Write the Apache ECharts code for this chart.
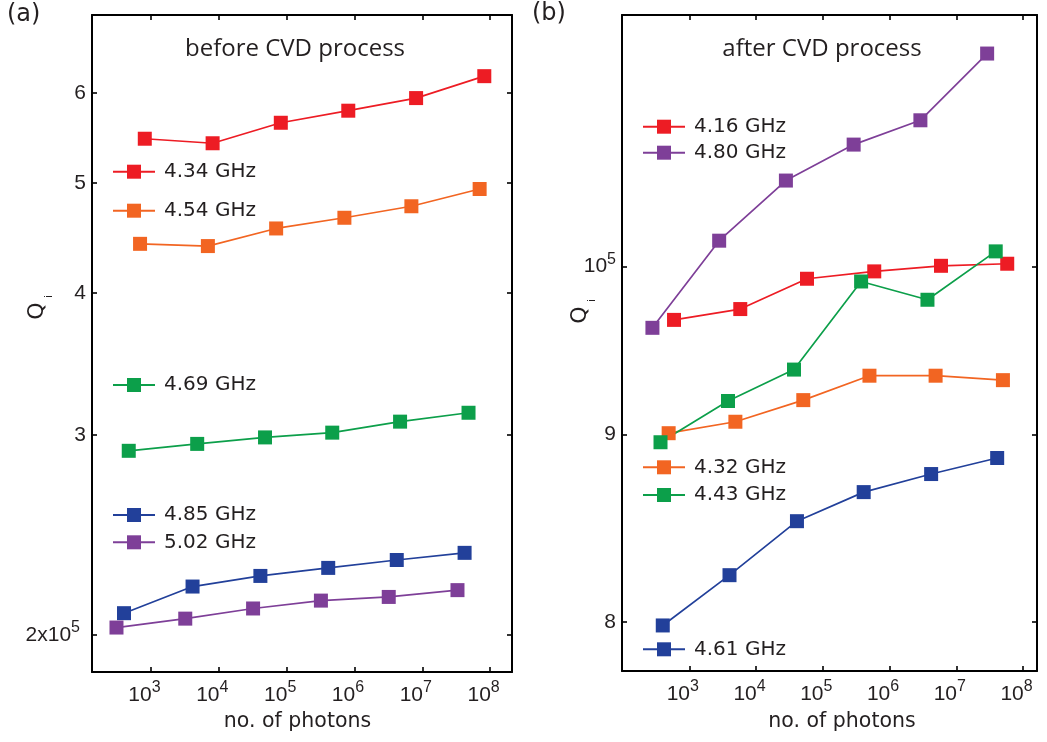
<!DOCTYPE html>
<html>
<head>
<meta charset="utf-8">
<script src="https://cdn.jsdelivr.net/npm/echarts@6/dist/echarts.min.js"></script>
<style>
html,body{margin:0;padding:0;background:#fff;}
#chart{width:1047px;height:742px;}
</style>
</head>
<body>
<div id="chart"></div>
<script>
// ---------- data: panel (a) before CVD process ----------
const namesA = ['4.34 GHz', '4.54 GHz', '4.69 GHz', '4.85 GHz', '5.02 GHz'];
const photonsA_434 = [810, 8100, 82000, 810000, 8.1e6, 8.2e7];
const qiA_434 = [5.47e5, 5.42e5, 5.65e5, 5.79e5, 5.94e5, 6.21e5];
const photonsA_454 = [690, 6900, 70000, 710000, 6.9e6, 7.0e7];
const qiA_454 = [4.42e5, 4.40e5, 4.56e5, 4.66e5, 4.77e5, 4.94e5];
const photonsA_469 = [470, 4800, 48000, 470000, 4.7e6, 4.8e7];
const qiA_469 = [2.905e5, 2.946e5, 2.985e5, 3.014e5, 3.082e5, 3.138e5];
const photonsA_485 = [400, 4100, 41000, 410000, 4.2e6, 4.2e7];
const qiA_485 = [2.09e5, 2.206e5, 2.254e5, 2.291e5, 2.328e5, 2.362e5];
const photonsA_502 = [310, 3200, 32000, 320000, 3.2e6, 3.3e7];
const qiA_502 = [2.03e5, 2.067e5, 2.11e5, 2.144e5, 2.16e5, 2.19e5];

// ---------- data: panel (b) after CVD process ----------
const namesB = ['4.16 GHz', '4.80 GHz', '4.32 GHz', '4.43 GHz', '4.61 GHz'];
const photonsB_416 = [590, 5800, 58000, 590000, 5.9e6, 5.8e7];
const qiB_416 = [9.67e4, 9.736e4, 9.923e4, 9.969e4, 1.0004e5, 1.0017e5];
const photonsB_480 = [280, 2800, 28000, 290000, 2.9e6, 2.9e7];
const qiB_480 = [9.622e4, 1.0163e5, 1.0554e5, 1.0795e5, 1.0961e5, 1.143e5];
const photonsB_432 = [490, 4900, 51000, 500000, 4.9e6, 5.0e7];
const qiB_432 = [9.006e4, 9.071e4, 9.195e4, 9.337e4, 9.337e4, 9.311e4];
const photonsB_443 = [370, 3800, 37000, 375000, 3.7e6, 3.9e7];
const qiB_443 = [8.955e4, 9.19e4, 9.373e4, 9.906e4, 9.793e4, 1.0095e5];
const photonsB_461 = [400, 4000, 41000, 410000, 4.2e6, 4.1e7];
const qiB_461 = [7.982e4, 8.238e4, 8.522e4, 8.679e4, 8.778e4, 8.867e4];

// ---------- ticks ----------
const xTickValues = [1e3, 1e4, 1e5, 1e6, 1e7, 1e8];
const xTickLabels = [['10', '3'], ['10', '4'], ['10', '5'], ['10', '6'], ['10', '7'], ['10', '8']];
const yTickValuesA = [2e5, 3e5, 4e5, 5e5, 6e5];
const yTickLabelsA = [['2x10', '5'], ['3', ''], ['4', ''], ['5', ''], ['6', '']];
const yTickValuesB = [8e4, 9e4, 1e5];
const yTickLabelsB = [['8', ''], ['9', ''], ['10', '5']];

const titleA = 'before CVD process';
const titleB = 'after CVD process';
const xName = 'no. of photons';
const yNameMain = 'Q';
const yNameSub = 'i';

// ---------- styling ----------
const FONT = '"Liberation Sans", Arial, Helvetica, sans-serif';
const WIDE = '"DejaVu Sans", sans-serif';
const TXT = '#231F20';
const C = {
  red: '#ED1C24', orange: '#F26522', green: '#0C9F4A', blue: '#22409A', purple: '#7E3F98'
};

function toRaw(v) { return v < 100 ? Math.pow(10, v) : v; }
function labelFor(values, labels, v, supStyle) {
  v = toRaw(v);
  let best = 0, bd = Infinity;
  values.forEach((t, i) => { const d = Math.abs(Math.log10(t) - Math.log10(v)); if (d < bd) { bd = d; best = i; } });
  const l = labels[best];
  return '{b|' + l[0] + '}' + (l[1] ? '{' + supStyle + '|' + l[1] + '}' : '');
}
const richBase = {
  b: { fontSize: 21, lineHeight: 30, fontFamily: FONT, color: TXT },
  s: { fontSize: 16, lineHeight: 14, verticalAlign: 'top', fontFamily: FONT, color: TXT },
  sa: { fontSize: 16, lineHeight: 14, verticalAlign: 'top', fontFamily: FONT, color: TXT, padding: [0, 6, 0, 0] }
};

const LINE = { color: '#000', width: 2 };
const TICK = { inside: true, length: 5, lineStyle: { color: '#000', width: 1.6 } };

function xAxes(gridIndex, min, max) {
  return [
    {
      type: 'log', logBase: 10, gridIndex, min, max, position: 'bottom',
      axisLine: { show: true, onZero: false, lineStyle: LINE },
      axisTick: Object.assign({ customValues: xTickValues }, TICK),
      axisLabel: {
        customValues: xTickValues, margin: 8, padding: [0, 13, 0, 0],
        formatter: v => labelFor(xTickValues, xTickLabels, v, 's'), rich: richBase
      },
      splitLine: { show: false }, minorTick: { show: false }
    },
    {
      type: 'log', logBase: 10, gridIndex, min, max, position: 'top',
      axisLine: { show: true, onZero: false, lineStyle: LINE },
      axisTick: Object.assign({ customValues: xTickValues }, TICK),
      axisLabel: { show: false, customValues: xTickValues },
      splitLine: { show: false }
    }
  ];
}
function yAxes(gridIndex, min, max, vals, labels, sup) {
  return [
    {
      type: 'log', logBase: 10, gridIndex, min, max, position: 'left',
      axisLine: { show: true, onZero: false, lineStyle: LINE },
      axisTick: Object.assign({ customValues: vals }, TICK),
      axisLabel: {
        customValues: vals, margin: 6,
        formatter: v => labelFor(vals, labels, v, sup), rich: richBase
      },
      splitLine: { show: false }
    },
    {
      type: 'log', logBase: 10, gridIndex, min, max, position: 'right',
      axisLine: { show: true, onZero: false, lineStyle: LINE },
      axisTick: Object.assign({ customValues: vals }, TICK),
      axisLabel: { show: false, customValues: vals },
      splitLine: { show: false }
    }
  ];
}

function mk(name, xs, qs, color, xi, yi) {
  return {
    type: 'line', name, xAxisIndex: xi, yAxisIndex: yi,
    data: xs.map((x, i) => [x, qs[i]]),
    symbol: 'rect', symbolSize: 14, showSymbol: true,
    lineStyle: { width: 1.7, color }, itemStyle: { color },
    emphasis: { disabled: true }, silent: true
  };
}

const series = [
  mk(namesA[0], photonsA_434, qiA_434, C.red, 0, 0),
  mk(namesA[1], photonsA_454, qiA_454, C.orange, 0, 0),
  mk(namesA[2], photonsA_469, qiA_469, C.green, 0, 0),
  mk(namesA[3], photonsA_485, qiA_485, C.blue, 0, 0),
  mk(namesA[4], photonsA_502, qiA_502, C.purple, 0, 0),
  mk(namesB[0], photonsB_416, qiB_416, C.red, 2, 2),
  mk(namesB[1], photonsB_480, qiB_480, C.purple, 2, 2),
  mk(namesB[2], photonsB_432, qiB_432, C.orange, 2, 2),
  mk(namesB[3], photonsB_443, qiB_443, C.green, 2, 2),
  mk(namesB[4], photonsB_461, qiB_461, C.blue, 2, 2)
];

const legendPos = [
  [namesA[0], 112, 160.7], [namesA[1], 112, 199.7], [namesA[2], 112, 374],
  [namesA[3], 112, 504], [namesA[4], 112, 531.3],
  [namesB[0], 642, 115.7], [namesB[1], 642, 141.7], [namesB[2], 642, 456.3],
  [namesB[3], 642, 484], [namesB[4], 642, 638.3]
];
const legend = legendPos.map(p => ({
  data: [p[0]], left: p[1], top: p[2], orient: 'vertical', padding: 0,
  itemWidth: 42, itemHeight: 17.5, selectedMode: false,
  textStyle: { fontSize: 20, lineHeight: 22, fontFamily: WIDE, color: TXT, padding: [0, 0, 0, 4] }
}));

function yNameText(qx, qy) {
  return [
    { type: 'text', x: qx, y: qy, rotation: Math.PI / 2,
      style: { text: yNameMain, fontSize: 22, fontFamily: WIDE, fill: TXT, align: 'center', verticalAlign: 'middle' } },
    { type: 'text', x: qx + 12, y: qy - 14.5, rotation: Math.PI / 2,
      style: { text: yNameSub, fontSize: 11, fontFamily: FONT, fill: TXT, align: 'center', verticalAlign: 'middle' } }
  ];
}

const option = {
  animation: false,
  backgroundColor: '#fff',
  grid: [
    { left: 92, top: 15, width: 420, height: 657 },
    { left: 622, top: 15, width: 415, height: 656 }
  ],
  xAxis: [].concat(xAxes(0, 135, 2.1e8), xAxes(1, 98, 1.62e8)),
  yAxis: [].concat(
    yAxes(0, 1.855e5, 7.03e5, yTickValuesA, yTickLabelsA, 'sa'),
    yAxes(1, 7.757e4, 1.171e5, yTickValuesB, yTickLabelsB, 's')
  ),
  legend,
  series,
  graphic: [
    { type: 'text', x: 7, y: 15, style: { text: '(a)', fontSize: 24, fontFamily: WIDE, fill: TXT, align: 'left', verticalAlign: 'middle' } },
    { type: 'text', x: 532, y: 14, style: { text: '(b)', fontSize: 24, fontFamily: WIDE, fill: TXT, align: 'left', verticalAlign: 'middle' } },
    { type: 'text', x: 295, y: 49, style: { text: titleA, fontSize: 24, fontFamily: '"Open Sans", sans-serif', fill: TXT, align: 'center', verticalAlign: 'middle' } },
    { type: 'text', x: 822, y: 49, style: { text: titleB, fontSize: 24, fontFamily: '"Open Sans", sans-serif', fill: TXT, align: 'center', verticalAlign: 'middle' } },
    { type: 'text', x: 297.5, y: 722, style: { text: xName, fontSize: 20.5, fontFamily: WIDE, fill: TXT, align: 'center', verticalAlign: 'middle' } },
    { type: 'text', x: 842, y: 722, style: { text: xName, fontSize: 20.5, fontFamily: WIDE, fill: TXT, align: 'center', verticalAlign: 'middle' } }
  ].concat(yNameText(37, 311), yNameText(580, 315))
};

const chart = echarts.init(document.getElementById('chart'), null, { renderer: 'canvas' });
chart.setOption(option);
</script>
</body>
</html>
